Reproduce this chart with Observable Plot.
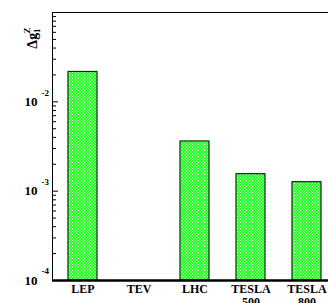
<!DOCTYPE html>
<html><head><meta charset="utf-8">
<script src="https://cdn.jsdelivr.net/npm/d3@7"></script>
<script src="https://cdn.jsdelivr.net/npm/@observablehq/plot@0.6"></script>
<style>
html,body{margin:0;padding:0;background:#fff;overflow:hidden;width:328px;height:303px;}
#chart{width:328px;height:303px;overflow:hidden;}
#chart svg{max-width:none !important;}
</style>
</head><body><div id="chart"></div>
<script>
const experiments = ["LEP", "TEV", "LHC", "TESLA 500", "TESLA 800"];
const xLabels = ["LEP", "TEV", "LHC", "TESLA\n500", "TESLA\n800"];
const deltaG = [0.0216, null, 0.0036, 0.00155, 0.00126];
const majorTicks = [1e-4, 1e-3, 1e-2, 1e-1];
const exponents = ["-4", "-3", "-2", "-1"];
const minorMultipliers = [2, 3, 4, 5, 6, 7, 8, 9];

const data = experiments.map((e, i) => ({exp: e, label: xLabels[i], v: deltaG[i]}));
const bars = data.filter(d => d.v != null);
const majors = majorTicks.slice(0, 3).map((t, i) => ({t, e: exponents[i]}));
const minors = [];
for (const t of majorTicks.slice(0, 3)) for (const m of minorMultipliers) minors.push(t * m);

const W = 340, H = 303, ML = 52, MR = 3, MT = 12, MB = 23;
const plotW = W - ML - MR;
const font = "Liberation Serif";

const chart = Plot.plot({
  width: W, height: H,
  marginLeft: ML, marginRight: MR, marginTop: MT, marginBottom: MB,
  style: {fontFamily: font, fontWeight: "bold", background: "#fff", maxWidth: "none"},
  x: {domain: experiments, paddingInner: 0.49, paddingOuter: 0.25, axis: null},
  y: {type: "log", domain: [1e-4, 1e-1], axis: null},
  marks: [
    Plot.barY(bars, {x: "exp", y1: 1e-4, y2: "v", fill: "#22ff22", stroke: "none"}),
    Plot.barY(bars, {x: "exp", y1: 1e-4, y2: "v", fill: "url(#dots)", stroke: "#0c2a0c", strokeWidth: 1.2}),
    Plot.frame({stroke: "#000", strokeWidth: 1}),
    Plot.ruleY(majors, {y: "t", insetRight: plotW - 6, stroke: "#000", strokeWidth: 1}),
    Plot.ruleY(minors, {insetRight: plotW - 4, stroke: "#000", strokeWidth: 1}),
    Plot.ruleY([1e-4], {stroke: "#000", strokeWidth: 2.5}),
    Plot.text(majors, {y: "t", text: () => "10", frameAnchor: "left", dx: -15, textAnchor: "end", fontFamily: font, fontSize: 13, fontWeight: "bold", fill: "#000"}),
    Plot.text(majors, {y: "t", text: "e", frameAnchor: "left", dx: -11, dy: -9, textAnchor: "start", fontFamily: font, fontSize: 9, fontWeight: "bold", fill: "#000"}),
    Plot.text(data, {x: "exp", text: "label", frameAnchor: "bottom", dy: 4, lineAnchor: "top", lineHeight: 1.05, fontFamily: font, fontSize: 12, fontWeight: "bold", fill: "#000"})
  ]
});

const svg = d3.select(chart);
svg.style("max-width", "none").style("height", H + "px").style("width", W + "px");
const defs = svg.insert("defs", ":first-child");
const pat = defs.append("pattern").attr("id", "dots").attr("patternUnits", "userSpaceOnUse")
  .attr("width", 3).attr("height", 3);
pat.append("rect").attr("x", 0).attr("y", 0).attr("width", 1).attr("height", 1).style("fill", "#ffffff");
pat.append("rect").attr("x", 1.5).attr("y", 1.5).attr("width", 1).attr("height", 1).style("fill", "#e8ffe8");

const lab = svg.append("text")
  .attr("transform", "translate(37,38) rotate(-90)")
  .attr("font-family", font).attr("font-weight", "bold").attr("font-size", 14).attr("fill", "#000");
lab.append("tspan").text("Δg");
lab.append("tspan").attr("font-size", 9).attr("dy", 3).text("1");
lab.append("tspan").attr("font-size", 9).attr("dy", -10).attr("dx", -5).text("Z");

document.getElementById("chart").appendChild(chart);
</script>
</body></html>
